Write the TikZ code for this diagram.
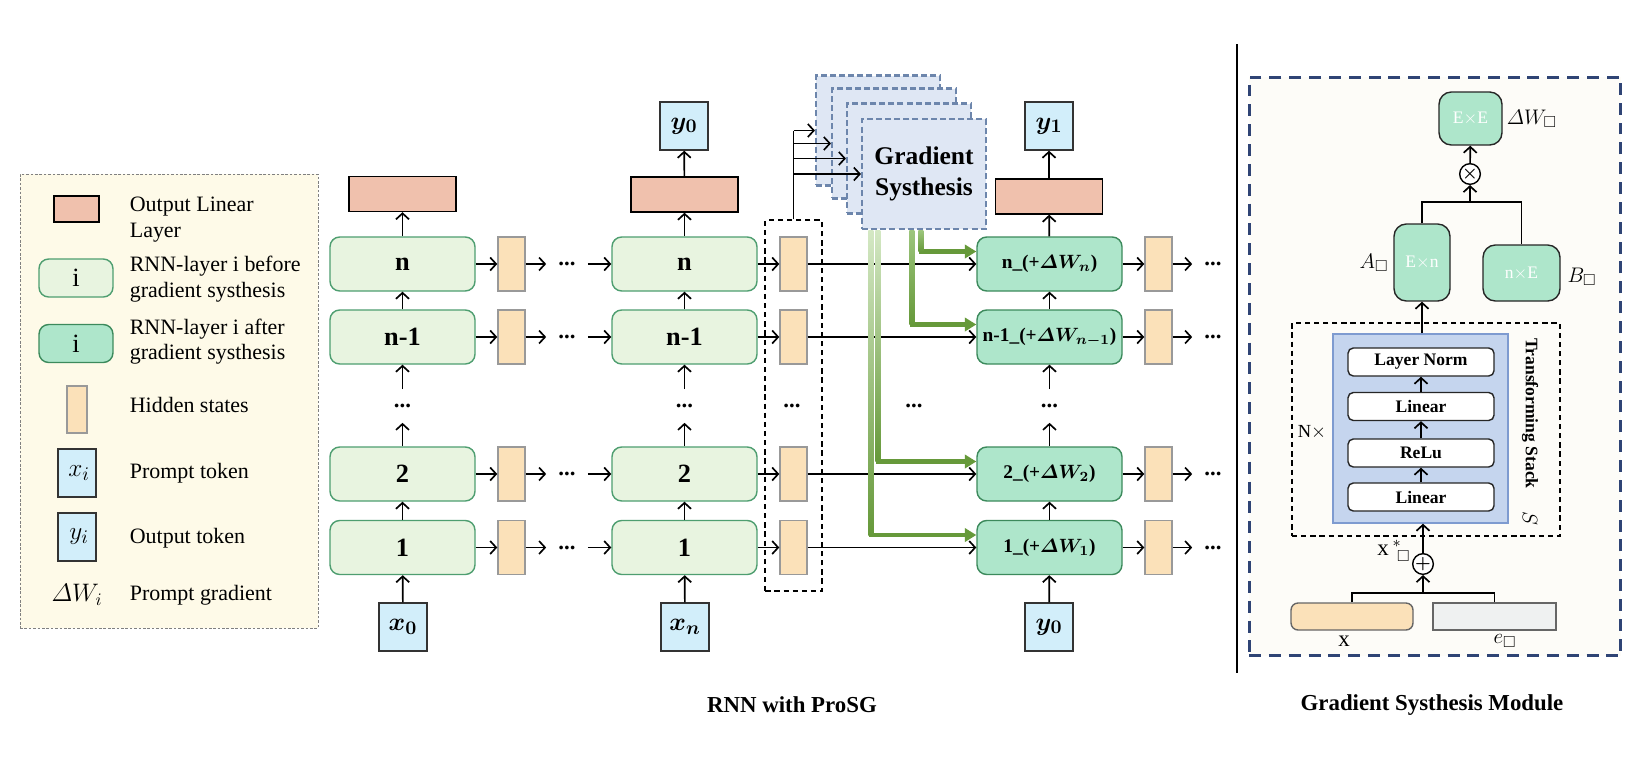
\documentclass[tikz,border=0pt]{standalone}
\usepackage{amsmath,amssymb,bm}
\usepackage{fontspec}
\setmainfont{Liberation Serif}
\usepackage{tikz}
\usetikzlibrary{arrows.meta,positioning,fit,calc}

\definecolor{legfill}{HTML}{FEFAE8}
\definecolor{modfill}{HTML}{FDFCF8}
\definecolor{olinfill}{HTML}{F0C1AD}
\definecolor{gpre}{HTML}{E8F4E0}
\definecolor{gpreline}{HTML}{4E9E70}
\definecolor{gpost}{HTML}{AEE6CB}
\definecolor{gpostline}{HTML}{3C8A5C}
\definecolor{hidfill}{HTML}{FBE1B9}
\definecolor{tokfill}{HTML}{D2EEFA}
\definecolor{gsfill}{HTML}{DFE7F4}
\definecolor{gsline}{HTML}{6D86AC}
\definecolor{garrow}{HTML}{66993A}
\definecolor{glight}{HTML}{D4E8C4}
\definecolor{gmid}{HTML}{9CC57C}
\definecolor{navy}{HTML}{2F4475}
\definecolor{bluef}{HTML}{C5D5EE}
\definecolor{bluel}{HTML}{7E9BD0}
\definecolor{efill}{HTML}{EFF1F1}

\newcommand{\lgfont}{\fontsize{12.5}{14.6}\selectfont}
\newcommand{\swfont}{\fontsize{15}{17}\selectfont}

\begin{document}
\begin{tikzpicture}[x=0.02cm, y=-0.02cm, >={Straight Barb[length=3.4pt,width=7.4pt]},
  line width=0.95pt,
  rnn/.style={draw=gpreline, fill=gpre, line width=0.8pt, rounded corners=5.5pt, minimum width=2.9cm, minimum height=1.08cm, inner sep=0pt, font=\bfseries\fontsize{15}{17}\selectfont},
  rnnsg/.style={rnn, draw=gpostline, fill=gpost, font=\bfseries\fontsize{11}{14}\selectfont},
  hid/.style={draw=black!40, fill=hidfill, line width=0.8pt, minimum width=0.54cm, minimum height=1.08cm, inner sep=0pt},
  olin/.style={draw=black, fill=olinfill, line width=0.8pt, minimum width=2.14cm, minimum height=0.7cm, inner sep=0pt},
  tok/.style={draw=black!80, fill=tokfill, line width=0.8pt, minimum size=0.96cm, inner sep=0pt, font=\fontsize{15}{17}\selectfont},
  dots/.style={inner sep=0pt, minimum width=0.8cm, minimum height=0.64cm, font=\bfseries\fontsize{13}{15}\selectfont},
  gs/.style={draw=gsline, fill=gsfill, line width=1.2pt, dash pattern=on 3.4pt off 1.8pt, minimum width=2.48cm, minimum height=2.2cm},
  garr/.style={draw=garrow, line width=2.8pt, -{Triangle[length=6.5pt,width=7.5pt]}},
  lgd/.style={font=\lgfont, align=left, anchor=west, inner sep=0pt},
  mat/.style={draw=black!85, fill=gpost, line width=0.8pt, rounded corners=7pt, text=white, minimum width=1.26cm, minimum height=1.06cm, font=\fontsize{10}{12}\selectfont},
  lay/.style={draw=black!85, fill=white, line width=0.8pt, rounded corners=3pt, minimum width=2.92cm, minimum height=0.56cm, inner sep=0pt, font=\bfseries\fontsize{10}{12}\selectfont},
  mlab/.style={font=\fontsize{13}{15}\selectfont},
  title/.style={font=\bfseries\fontsize{13}{15}\selectfont}]

\fill[white] (0,0) rectangle (1642,771);
\useasboundingbox (0,0) rectangle (1642,771);

% legend
\node[draw=black!50, fill=legfill, line width=0.5pt, dash pattern=on 1.5pt off 1pt, minimum width=5.96cm, minimum height=9.08cm] (lg) at (169,401) {};
\node[olin, minimum width=0.9cm, minimum height=0.52cm] (lo) at (76.5,209) {};
\node[rnn, font=\swfont, minimum width=1.48cm, minimum height=0.76cm] (lb) at (76,278) {i};
\node[rnnsg, font=\swfont, minimum width=1.48cm, minimum height=0.76cm] (la) at (76,343.5) {i};
\node[hid, minimum width=0.4cm, minimum height=0.94cm] (lh) at (77,409.5) {};
\node[tok, font=\swfont, minimum width=0.76cm, minimum height=0.96cm] (lx) at (77,473) {\,$x_i$};
\node[tok, font=\swfont, minimum width=0.76cm, minimum height=0.96cm] (ly) at (77,537) {\,$y_i$};
\node[font=\fontsize{14}{16}\selectfont] (lw) at (77,595) {$\varDelta W_i$};
\node[lgd] (t1) at (129,219.5) {Output Linear\\Layer};
\node[lgd] (t2) at (129,279) {RNN-layer i before\\gradient systhesis};
\node[lgd] (t3) at (129,341.5) {RNN-layer i after\\gradient systhesis};
\node[lgd] (t4) at (129,405) {Hidden states};
\node[lgd] (t5) at (129,473) {Prompt token};
\node[lgd] (t6) at (129,538) {Output token};
\node[lgd] (t7) at (129,595) {Prompt gradient};

% rnn rows
\foreach \r/\y/\lab/\sub in {a/547.5/1/1, b/474/2/2, m/337/n-1/{n-1}, n/264/n/n} {
  \node[rnn] (p\r) at (402.5,\y) {\lab};
  \node[hid] (hp\r) at (511.5,\y) {};
  \node[dots] (dp\r) at (567,\y) {...};
  \node[rnn] (q\r) at (684.5,\y) {\lab};
  \node[hid] (hq\r) at (793.5,\y) {};
  \node[rnnsg] (s\r) at (1049.5,\y) {\lab\_(+$\bm{\varDelta W_{\sub}}$)};
  \node[hid] (hs\r) at (1158.5,\y) {};
  \node[dots] (ds\r) at (1213,\y) {...};
  \draw[->] (p\r) -- (hp\r);
  \draw[->] (hp\r) -- (dp\r);
  \draw[->] (dp\r) -- (q\r);
  \draw[->] (q\r) -- (hq\r);
  \draw[->] (hq\r) -- (s\r);
  \draw[->] (s\r) -- (hs\r);
  \draw[->] (hs\r) -- (ds\r);
}

% inputs and outputs
\node[tok] (xp) at (403,627) {$\bm{x_0}$};
\node[tok] (xq) at (685,627) {$\bm{x_n}$};
\node[tok] (xs) at (1049,627) {$\bm{y_0}$};
\node[olin] (op) at (402.5,194) {};
\node[olin] (oq) at (684.5,194.5) {};
\node[olin] (os) at (1049,196.5) {};
\node[tok] (yq) at (684,126) {$\bm{y_0}$};
\node[tok] (ys) at (1049,126) {$\bm{y_1}$};
\node[dots] (vp) at (402.5,406) {...};
\node[dots] (vq) at (684.5,406) {...};
\node[dots] (vs) at (1049.5,406) {...};
\foreach \c in {p,q,s} {
  \draw[->] (x\c) -- (\c a);
  \draw[->] (\c a) -- (\c b);
  \draw[->] (\c b) -- (v\c);
  \draw[->] (v\c) -- (\c m);
  \draw[->] (\c m) -- (\c n);
  \draw[->] (\c n) -- (o\c);
}
\draw[->] (oq) -- (yq);
\draw[->] (os) -- (ys);

% hidden states passed on
\node[draw, dash pattern=on 3pt off 2.2pt, fit=(hqn)(hqa), inner xsep=0.28cm, inner ysep=0.32cm] (hcol) {};
\node[dots] (dhq) at (792,406) {...};
\node[dots] (dmid) at (914,406) {...};

% gradient synthesis copies
\foreach \k/\x/\y in {1/878/130.5, 2/894/143.5, 3/909/158.5}
  \node[gs] (gs\k) at (\x,\y) {};
\node[gs, align=center, font=\bfseries\fontsize{14.5}{17.5}\selectfont] (gs4) at (924,174) {Gradient\\Systhesis};
\draw (hcol.north) -- (hcol.north |- gs1.west);
\foreach \k in {1,...,4}
  \draw[->] (hcol.north |- gs\k.west) -- (gs\k.west);

\foreach \dx/\r/\top in {10/a/glight, 17/b/glight, 51/m/gmid, 60/n/gmid} {
  \draw[garr] ($(gs4.south west)+(\dx,0)$) |- ($(s\r.west)+(0,-12.5)$);
  \path ($(gs4.south west)+(\dx,0)$) coordinate (gt) ($(s\r.west)+(0,-12.5)$) coordinate (gb);
  \shade[top color=\top, bottom color=garrow] ($(gt)+(-2.5,0.6)$) rectangle ($(gt |- gb)+(2.5,0)$);
}

% gradient synthesis module
\draw[line width=1.1pt] (1237,44) -- (1237,673);
\node[draw=navy, fill=modfill, line width=1.7pt, dash pattern=on 6.8pt off 4.5pt, minimum width=7.44cm, minimum height=11.58cm] (gsm) at (1435,366.5) {};
\node[mat] (ee) at (1470.5,118.5) {E$\times$E};
\node[circle, draw, fill=white, line width=0.8pt, inner sep=0pt, minimum size=0.38cm] (mul) at (1470,174) {$\bm{\times}$};
\node[mat, minimum width=1.12cm, minimum height=1.54cm] (en) at (1422,262.5) {E$\times$n};
\node[mat, minimum width=1.54cm, minimum height=1.12cm] (ne) at (1521.5,273) {n$\times$E};
\node[mlab, anchor=west, inner sep=0pt] (lwm) at (1506,119) {$\varDelta W_{\square}$};
\node[mlab] (lam) at (1374,263) {$A_{\square}$};
\node[mlab] (lbm) at (1582,277) {$B_{\square}$};
\coordinate (jab) at (1470,202);
\draw (en.north) |- (jab) -| (ne.north);
\draw[->] (jab) -- (mul);
\draw[->] (mul) -- (ee);

\node[draw, dash pattern=on 3pt off 2.2pt, minimum width=5.36cm, minimum height=4.26cm] (tsd) at (1426,429.5) {};
\node[draw=bluel, fill=bluef, line width=0.8pt, minimum width=3.5cm, minimum height=3.78cm] (tsb) at (1420.5,428.5) {};
\foreach \nm/\y/\lab in {l1/497/Linear, rl/453/ReLu, l2/406.5/Linear, ln/362/Layer Norm}
  \node[lay] (\nm) at (1421,\y) {\lab};
\draw[->] (l1) -- (rl);
\draw[->] (rl) -- (l2);
\draw[->] (l2) -- (ln);
\draw[->] (tsb.north -| en) -- (en);
\node[font=\fontsize{10.5}{12}\selectfont] (nx) at (1312,432) {N$\times$};
\node[rotate=-90, font=\bfseries\fontsize{10}{12}\selectfont] (tst) at (1530,413.5) {Transforming Stack};
\node[rotate=-90, font=\fontsize{12}{14}\selectfont] (tss) at (1530,518) {$S$};

\node[circle, draw, fill=white, line width=0.8pt, inner sep=0pt, minimum size=0.36cm] (add) at (1423,564) {$\bm{+}$};
\draw[->] (add) -- (add |- tsb.south);
\node[draw=black!60, fill=hidfill, line width=0.8pt, rounded corners=4pt, minimum width=2.44cm, minimum height=0.54cm] (xb) at (1352,616.5) {};
\node[draw=black!60, fill=efill, line width=0.8pt, minimum width=2.46cm, minimum height=0.54cm] (eb) at (1494.5,616.5) {};
\coordinate (jxe) at (1423,593);
\draw (xb.north) |- (jxe) -| (eb.north);
\draw[->] (jxe) -- (add);
\node[mlab] (xl) at (1344,641) {x};
\node[mlab] (el) at (1505,641) {$e_{\square}$};
\node[mlab] (xst) at (1394,551) {x\,$^{*}_{\;\square}$};

% titles
\node[title] (ti1) at (792,705) {RNN with ProSG};
\node[title] (ti2) at (1432,705) {Gradient Systhesis Module};
\end{tikzpicture}
\end{document}
